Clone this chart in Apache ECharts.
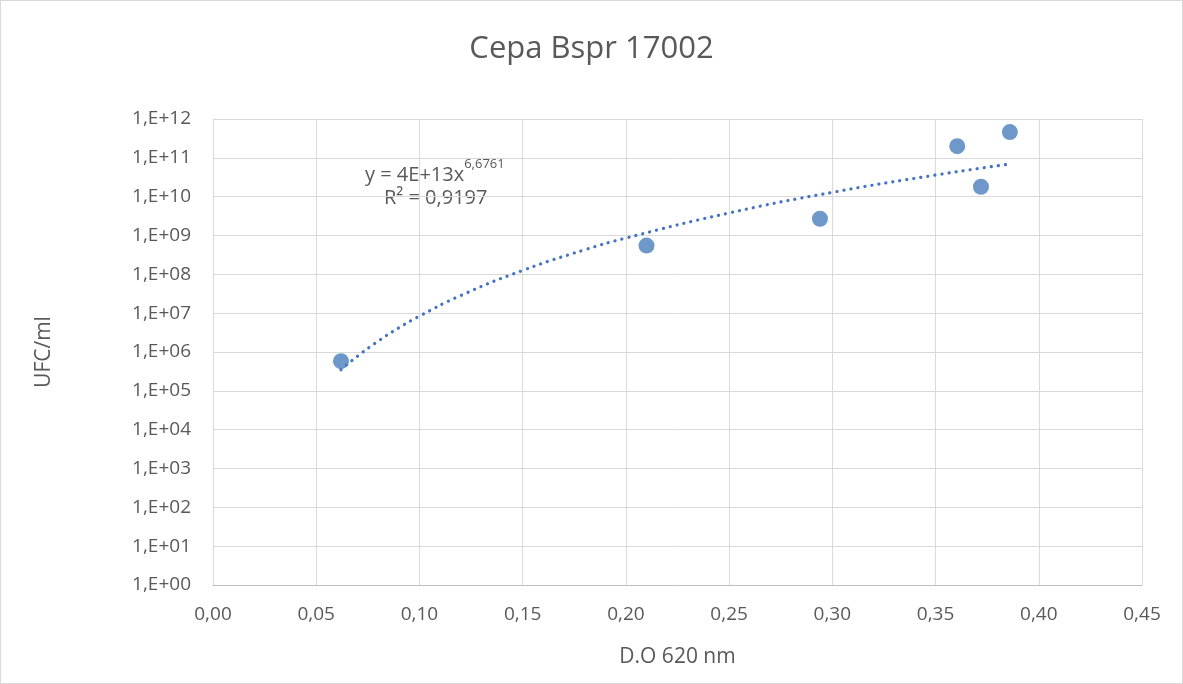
<!DOCTYPE html>
<html><head><meta charset="utf-8">
<script src="https://cdn.jsdelivr.net/npm/echarts@6/dist/echarts.min.js"></script>
<style>html,body{margin:0;padding:0;background:#fff}#c{width:1183px;height:684px;box-sizing:border-box;border:1px solid #d9d9d9}</style>
</head><body><div id="c"></div>
<script>
const obsX = [0.062, 0.210, 0.294, 0.3605, 0.372, 0.386];
const obsY = [5.8e5, 5.5e8, 2.7e9, 2.0e11, 1.8e10, 4.6e11];
const trendX = [0.062, 0.07, 0.08, 0.09, 0.10, 0.12, 0.15, 0.18, 0.20, 0.25, 0.30, 0.35, 0.386];
const trendY = [3.5e5, 7.8e5, 1.9e6, 4.2e6, 8.4e6, 2.85e7, 1.26e8, 4.27e8, 8.6e8, 3.8e9, 1.29e10, 3.6e10, 6.9e10];
const xTicks = ['0,00','0,05','0,10','0,15','0,20','0,25','0,30','0,35','0,40','0,45'];
const titleText = 'Cepa Bspr 17002';
const xName = 'D.O 620 nm';
const yName = 'UFC/ml';
const eqText = 'y = 4E+13x';
const eqExp = '6,6761';
const r2Text = 'R² = 0,9197';

const F = '"Open Sans", "Liberation Sans", sans-serif';
const chart = echarts.init(document.getElementById('c'));
chart.setOption({
  animation: false,
  title: {text: titleText, left: 'center', top: 28, textStyle: {fontFamily: F, fontSize: 31, fontWeight: 'normal', color: '#595959'}},
  grid: {left: 212, right: 40, top: 118, bottom: 98, containLabel: false},
  xAxis: {
    type: 'value', min: 0, max: 0.45, interval: 0.05,
    name: xName, nameLocation: 'middle', nameGap: 62,
    nameTextStyle: {fontFamily: F, fontSize: 21, color: '#595959'},
    axisLine: {show: true, lineStyle: {color: '#bfbfbf'}},
    axisTick: {show: false},
    axisLabel: {fontFamily: F, fontSize: 19, color: '#595959', margin: 20,
      formatter: v => xTicks[Math.round(v / 0.05)]},
    splitLine: {show: true, lineStyle: {color: '#d9d9d9'}}
  },
  yAxis: {
    type: 'log', logBase: 10, min: 1, max: 1e12, interval: 1,
    name: yName, nameLocation: 'middle', nameGap: 158, nameRotate: 90,
    nameTextStyle: {fontFamily: F, fontSize: 21, color: '#595959'},
    axisLine: {show: true, lineStyle: {color: '#d9d9d9'}},
    axisTick: {show: false},
    axisLabel: {fontFamily: F, fontSize: 19, color: '#595959', margin: 22,
      formatter: v => { const e = Math.round(Math.log10(v)); return '1,E+' + (e < 10 ? '0' + e : e); }},
    splitLine: {show: true, lineStyle: {color: '#d9d9d9'}},
    minorTick: {show: false}
  },
  series: [
    {type: 'line', data: trendX.map((x, i) => [x, trendY[i]]), smooth: true, showSymbol: false,
      lineStyle: {color: '#4472c4', width: 3.2, type: [0.1, 7], cap: 'round'}, z: 2},
    {type: 'scatter', data: obsX.map((x, i) => [x, obsY[i]]), symbolSize: 16,
      itemStyle: {color: '#4a7ebb'}, z: 3}
  ],
  graphic: [
    {type: 'text', left: 364, top: 157, style: {
      text: '{a|' + eqText + '}{b|' + eqExp + '}', fill: '#595959',
      rich: {a: {fontFamily: F, fontSize: 20, fill: '#595959', verticalAlign: 'bottom'},
             b: {fontFamily: F, fontSize: 13, fill: '#595959', verticalAlign: 'top', padding: [0,0,14,0]}}}},
    {type: 'text', left: 383, top: 187, style: {text: r2Text, fontFamily: F, fontSize: 20, fill: '#595959'}}
  ]
});
</script></body></html>
